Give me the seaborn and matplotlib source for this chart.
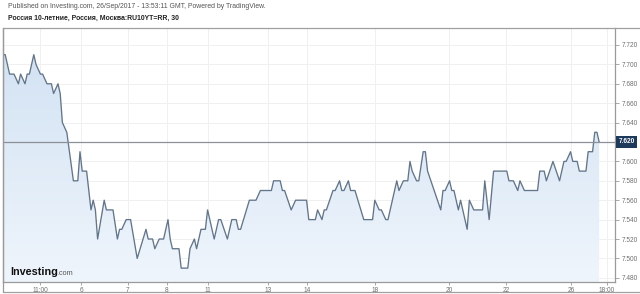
import numpy as np
import pandas as pd
import matplotlib
matplotlib.use("Agg")
import matplotlib.pyplot as plt
import seaborn as sns
from matplotlib.colors import LinearSegmentedColormap
from matplotlib.patches import PathPatch
import matplotlib.transforms as mtransforms

# ---- data: 30-minute bars (bar index) and yield values ----
bars = [0, 1, 3, 5, 7, 8, 10, 11, 12, 14, 15, 17, 18, 20, 22, 23, 25, 26, 27, 29,
        32, 34, 35, 36, 38, 40, 41, 42, 43, 46, 47, 50, 52, 53, 54, 56, 58, 61, 65, 66,
        68, 69, 71, 73, 75, 76, 77, 80, 81, 84, 85, 87, 88, 90, 92, 93, 96, 98, 99, 102,
        104, 106, 107, 108, 112, 115, 117, 122, 123, 126, 127, 128, 131, 133, 138, 139, 142, 143, 145, 146,
        147, 150, 151, 153, 154, 155, 157, 158, 160, 164, 168, 169, 171, 172, 174, 175, 177, 179, 180, 182,
        184, 185, 186, 188, 189, 191, 192, 193, 199, 200, 201, 203, 204, 205, 207, 208, 211, 212, 214, 218,
        219, 221, 223, 229, 230, 232, 234, 235, 237, 243, 244, 246, 247, 250, 253, 255, 256, 258, 259, 261,
        262, 265, 266, 268, 269, 270, 271]
yields = [7.71, 7.71, 7.69, 7.69, 7.68, 7.69, 7.68, 7.69, 7.69, 7.71, 7.70, 7.69, 7.69, 7.68, 7.68, 7.67, 7.68, 7.67, 7.64, 7.63,
          7.58, 7.58, 7.61, 7.59, 7.59, 7.55, 7.56, 7.55, 7.52, 7.56, 7.55, 7.55, 7.52, 7.53, 7.53, 7.54, 7.54, 7.50, 7.53, 7.52,
          7.52, 7.51, 7.52, 7.52, 7.54, 7.52, 7.51, 7.51, 7.49, 7.49, 7.51, 7.52, 7.51, 7.53, 7.53, 7.55, 7.52, 7.54, 7.54, 7.52,
          7.54, 7.54, 7.53, 7.53, 7.56, 7.56, 7.57, 7.57, 7.58, 7.58, 7.57, 7.57, 7.55, 7.56, 7.56, 7.54, 7.54, 7.55, 7.54, 7.55,
          7.55, 7.57, 7.57, 7.58, 7.57, 7.57, 7.58, 7.57, 7.57, 7.54, 7.54, 7.56, 7.55, 7.55, 7.54, 7.54, 7.56, 7.58, 7.57, 7.58,
          7.58, 7.60, 7.59, 7.58, 7.58, 7.61, 7.61, 7.59, 7.55, 7.57, 7.57, 7.58, 7.57, 7.57, 7.55, 7.56, 7.53, 7.56, 7.55, 7.55,
          7.58, 7.54, 7.59, 7.59, 7.58, 7.58, 7.57, 7.58, 7.57, 7.57, 7.59, 7.59, 7.58, 7.60, 7.58, 7.60, 7.60, 7.61, 7.60, 7.60,
          7.59, 7.59, 7.61, 7.61, 7.63, 7.63, 7.62]
last_price = 7.62
last_label = "7.620"

x_tick_bars = [16.8, 35.5, 56.8, 74.5, 93.2, 120.5, 138.2, 169.1, 202.7, 228.6, 258.2, 274.5]
x_tick_labels = ["11:00", "6", "7", "8", "11", "13", "14", "18", "20", "22", "26", "18:00"]
y_ticks = [7.48, 7.50, 7.52, 7.54, 7.56, 7.58, 7.60, 7.62, 7.64, 7.66, 7.68, 7.70, 7.72]

header = "Published on Investing.com, 26/Sep/2017 - 13:53:11 GMT, Powered by TradingView."
title = "Россия 10-летние, Россия, Москва:RU10YT=RR, 30"

df = pd.DataFrame({"bar": bars, "yield": yields})

sns.set_theme(style="white")
plt.rcParams["font.family"] = ["Liberation Sans", "DejaVu Sans"]

W, H = 640, 294
fig = plt.figure(figsize=(W / 100, H / 100), dpi=100)
fig.patch.set_facecolor("white")
ax = fig.add_axes([3 / W, (H - 282) / H, (615 - 3) / W, (282 - 28) / H])

ymin, ymax = 7.4757, 7.7375
xmin, xmax = 0, 278.2
ax.set_xlim(xmin, xmax)
ax.set_ylim(ymin, ymax)

# grid
for yt in y_ticks:
    ax.axhline(yt, color="#f0f0f0", lw=0.7, zorder=0)
for xt in x_tick_bars:
    ax.axvline(xt, color="#f0f0f0", lw=0.7, zorder=0)

# gradient fill under the line
fill = ax.fill_between(df["bar"], df["yield"], ymin, color="none", lw=0)
path = fill.get_paths()[0]
patch = PathPatch(path, transform=ax.transData, facecolor="none", edgecolor="none")
ax.add_patch(patch)
cmap = LinearSegmentedColormap.from_list("g", ["#eff5fc", "#d2e2f3"])
grad = np.linspace(0, 1, 256).reshape(-1, 1)
im = ax.imshow(grad, extent=[xmin, xmax, ymin, 7.72], origin="lower", aspect="auto",
               cmap=cmap, zorder=1)
im.set_clip_path(patch)
ax.set_xlim(xmin, xmax)
ax.set_ylim(ymin, ymax)

# line
sns.lineplot(data=df, x="bar", y="yield", ax=ax, color="#62758a", lw=0.95, zorder=3)

# last price line
ax.axhline(last_price, color="#8c9198", lw=0.9, zorder=4)

# axes styling
ax.spines["top"].set_visible(False)
for s in ["left", "bottom", "right"]:
    ax.spines[s].set_color("#9a9a9a")
    ax.spines[s].set_linewidth(0.9)

ax.yaxis.tick_right()
ax.set_yticks(y_ticks)
ax.set_yticklabels(["" if abs(v - last_price) < 1e-9 else f"{v:.3f}" for v in y_ticks])
ax.set_xticks(x_tick_bars)
ax.set_xticklabels(x_tick_labels)
ax.tick_params(axis="y", which="both", right=True, length=3, width=0.6, color="#9a9a9a",
               labelsize=4.7, labelcolor="#6e6e6e", pad=2)
ax.tick_params(axis="x", which="both", bottom=True, length=2, width=0.6, color="#9a9a9a",
               labelsize=4.7, labelcolor="#6e6e6e", pad=1.5)
ax.set_xlabel("")
ax.set_ylabel("")

# last price label box
trans = mtransforms.blended_transform_factory(ax.transAxes, ax.transData)
ax.text(1.0 + 3.5 / (615 - 3), last_price, last_label, transform=trans, ha="left", va="center",
        fontsize=4.7, color="white", fontweight="bold", clip_on=False, zorder=10,
        bbox=dict(boxstyle="square,pad=0.35", facecolor="#1d3a5c", edgecolor="none"))

# header texts
fig.text(8 / W, 1 - 7 / H, header, fontsize=4.95, color="#555555", ha="left", va="center")
fig.text(8 / W, 1 - 18 / H, title, fontsize=4.95, color="#222222", fontweight="bold",
         ha="left", va="center")

# frame lines
fig.add_artist(plt.Line2D([3 / W, 1], [1 - 28 / H, 1 - 28 / H], color="#a0a0a0", lw=0.9))
fig.add_artist(plt.Line2D([3 / W, 1], [1 - 292 / H, 1 - 292 / H], color="#a0a0a0", lw=0.9))
fig.add_artist(plt.Line2D([3 / W, 3 / W], [1 - 292 / H, 1 - 28 / H], color="#9a9a9a", lw=0.9))

# Investing.com logo
fig.text(10 / W, 1 - 272 / H, "Investing", fontsize=7.8, color="#111111", fontweight="bold",
         ha="left", va="center")
fig.text(57.5 / W, 1 - 273.5 / H, ".com", fontsize=5.2, color="#555555", ha="left", va="center")

fig.savefig("out.png", dpi=100)
